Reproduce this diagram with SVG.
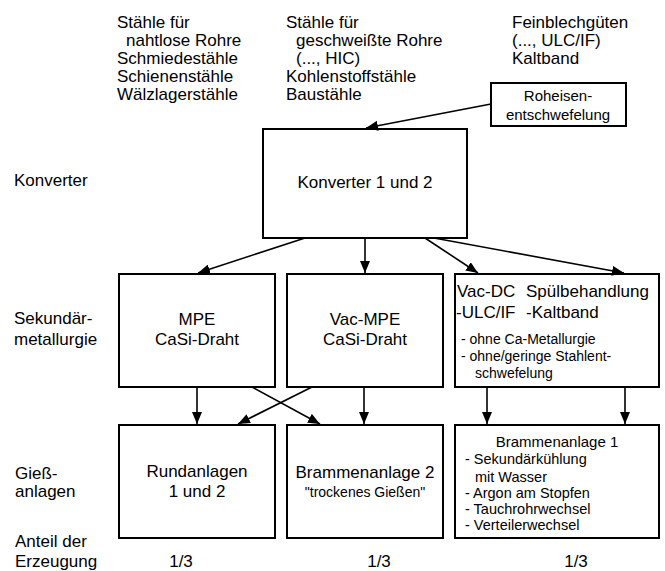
<svg xmlns="http://www.w3.org/2000/svg" width="665" height="571" viewBox="0 0 665 571">
<defs>
<marker id="ah" markerUnits="userSpaceOnUse" markerWidth="12" markerHeight="10" refX="12" refY="5" orient="auto">
<path d="M0,0 L12,5 L0,10 z" fill="#000"/>
</marker>
<style>
text{font-family:"Liberation Sans",Arial,sans-serif;fill:#000}
.t{font-size:17px}
.s{font-size:14px}
.l{font-size:14.5px}
.m{font-size:15px}
.c{text-anchor:middle}
rect{fill:#fff;stroke:#000;stroke-width:2}
.con line{stroke:#000;stroke-width:1.6;marker-end:url(#ah)}
</style>
</defs>
<rect x="0" y="0" width="665" height="571" style="stroke:none"/>

<g id="top-text">
<text class="t" x="117" y="28">Stähle für</text>
<text class="t" x="126" y="46">nahtlose Rohre</text>
<text class="t" x="117" y="64">Schmiedestähle</text>
<text class="t" x="117" y="82">Schienenstähle</text>
<text class="t" x="117" y="100">Wälzlagerstähle</text>
<text class="t" x="286" y="28">Stähle für</text>
<text class="t" x="296" y="46">geschweißte Rohre</text>
<text class="t" x="296" y="64">(..., HIC)</text>
<text class="t" x="286" y="82">Kohlenstoffstähle</text>
<text class="t" x="286" y="100">Baustähle</text>
<text class="t" x="512" y="28">Feinblechgüten</text>
<text class="t" x="512" y="46">(..., ULC/IF)</text>
<text class="t" x="512" y="64">Kaltband</text>
</g>

<g id="labels">
<text class="t" x="14" y="186">Konverter</text>
<text class="t" x="14" y="324">Sekundär-</text>
<text class="t" x="14" y="345">metallurgie</text>
<text class="t" x="15" y="479">Gieß-</text>
<text class="t" x="15" y="497">anlagen</text>
<text class="t" x="15" y="547">Anteil der</text>
<text class="t" x="15" y="567">Erzeugung</text>
<text class="t c" x="181" y="567">1/3</text>
<text class="t c" x="379" y="567">1/3</text>
<text class="t c" x="576" y="567">1/3</text>
</g>

<g id="roheisen">
<rect x="491" y="83" width="135" height="43"/>
<text class="m c" x="558" y="101">Roheisen-</text>
<text class="m c" x="558" y="120">entschwefelung</text>
</g>

<g id="konverter">
<rect x="263" y="129" width="204" height="109"/>
<text class="t c" x="365" y="188">Konverter 1 und 2</text>
</g>

<g id="mpe">
<rect x="119" y="274" width="156" height="113"/>
<text class="t c" x="197" y="325">MPE</text>
<text class="t c" x="197" y="345">CaSi-Draht</text>
</g>

<g id="vacmpe">
<rect x="287" y="274" width="156" height="113"/>
<text class="t c" x="365" y="325">Vac-MPE</text>
<text class="t c" x="365" y="345">CaSi-Draht</text>
</g>

<g id="vacdc">
<rect x="455" y="274" width="204" height="113"/>
<text class="t" x="457" y="297">Vac-DC</text>
<text class="t" x="526" y="297">Spülbehandlung</text>
<text class="t" x="456" y="318">-ULC/IF</text>
<text class="t" x="526" y="318">-Kaltband</text>
<text class="s" x="461" y="344">- ohne Ca-Metallurgie</text>
<text class="s" x="461" y="361">- ohne/geringe Stahlent-</text>
<text class="s" x="475" y="378">schwefelung</text>
</g>

<g id="rundanlagen">
<rect x="119" y="425" width="156" height="113"/>
<text class="t c" x="197" y="477">Rundanlagen</text>
<text class="t c" x="197" y="497">1 und 2</text>
</g>

<g id="brammen2">
<rect x="287" y="425" width="156" height="113"/>
<text class="t c" x="365" y="478">Brammenanlage 2</text>
<text class="s c" x="365" y="497">"trockenes Gießen"</text>
</g>

<g id="brammen1">
<rect x="455" y="425" width="204" height="113"/>
<text class="m c" x="557" y="447">Brammenanlage 1</text>
<text class="l" x="465" y="464">- Sekundärkühlung</text>
<text class="l" x="475" y="482">mit Wasser</text>
<text class="l" x="465" y="498">- Argon am Stopfen</text>
<text class="l" x="465" y="514">- Tauchrohrwechsel</text>
<text class="l" x="465" y="530">- Verteilerwechsel</text>
</g>

<g id="connectors" class="con">
<line x1="491" y1="104" x2="366" y2="128"/>
<line x1="305" y1="238" x2="198" y2="273"/>
<line x1="365" y1="238" x2="365" y2="273"/>
<line x1="425" y1="238" x2="478" y2="273"/>
<line x1="434" y1="238" x2="624" y2="273"/>
<line x1="197" y1="387" x2="197" y2="424"/>
<line x1="252" y1="387" x2="320" y2="424"/>
<line x1="312" y1="387" x2="238" y2="424"/>
<line x1="364" y1="387" x2="364" y2="424"/>
<line x1="487" y1="387" x2="487" y2="424"/>
<line x1="625" y1="387" x2="625" y2="424"/>
</g>
</svg>
